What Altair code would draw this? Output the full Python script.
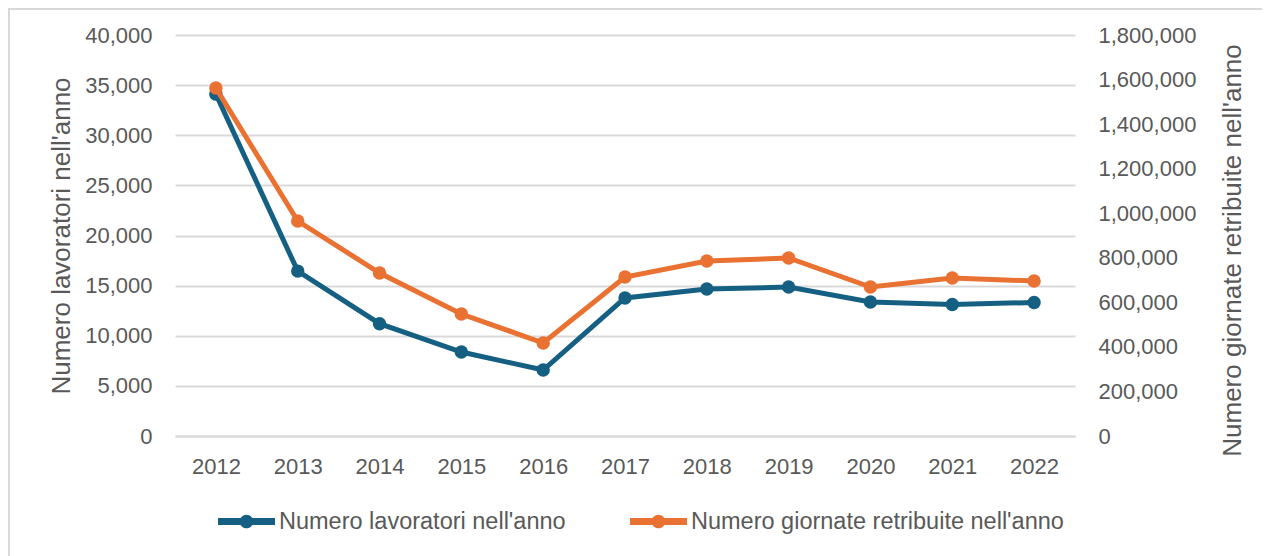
import altair as alt
import pandas as pd

years = ["2012", "2013", "2014", "2015", "2016", "2017", "2018", "2019", "2020", "2021", "2022"]
lavoratori = [34100, 16450, 11200, 8380, 6580, 13770, 14660, 14860, 13370, 13120, 13320]
giornate = [1562000, 965000, 731700, 547600, 417500, 713700, 785500, 799000, 668800, 709200, 695700]

s1 = "Numero lavoratori nell'anno"
s2 = "Numero giornate retribuite nell'anno"
c1 = "#156082"
c2 = "#E97132"

df1 = pd.DataFrame({"anno": years, "valore": lavoratori, "serie": s1})
df2 = pd.DataFrame({"anno": years, "valore": giornate, "serie": s2})

FONT = "Liberation Sans"
GRAY = "#595959"
GRID = "#d9d9d9"

xenc = alt.X("anno:O", title=None, sort=years,
             axis=alt.Axis(labelAngle=0, ticks=False, domain=True, domainColor=GRID,
                           domainWidth=2, labelPadding=20, labelFontSize=22,
                           labelColor=GRAY, labelFont=FONT))

color = alt.Color("serie:N", scale=alt.Scale(domain=[s1, s2], range=[c1, c2]),
                  legend=alt.Legend(title=None, orient="none", direction="horizontal",
                                    legendX=43, legendY=458, labelFontSize=23.5,
                                    labelColor=GRAY, labelFont=FONT, labelLimit=600,
                                    columnPadding=64, symbolSize=3249,
                                    symbolType="M-1,-0.12L1,-0.12L1,0.12L-1,0.12Z M-0.24,0 A0.24,0.24 0 1 1 0.24,0 A0.24,0.24 0 1 1 -0.24,0 Z",
                                    symbolStrokeWidth=0, symbolOpacity=1, labelOffset=4))

yleft = alt.Y("valore:Q", title=s1,
              scale=alt.Scale(domain=[0, 40000], nice=False),
              axis=alt.Axis(orient="left", values=list(range(0, 40001, 5000)), format=",.0f",
                            ticks=False, domain=False, grid=True, gridColor=GRID,
                            gridWidth=2, labelFontSize=22, labelColor=GRAY,
                            labelFont=FONT, labelPadding=23, titleFontSize=26,
                            titleFont=FONT, titleColor=GRAY, titleFontWeight="normal",
                            titlePadding=10, titleAngle=270))

yright = alt.Y("valore:Q", title=s2,
               scale=alt.Scale(domain=[0, 1800000], nice=False),
               axis=alt.Axis(orient="right", values=list(range(0, 1800001, 200000)), format=",.0f",
                             ticks=False, domain=False, grid=False, labelFontSize=22,
                             labelColor=GRAY, labelFont=FONT, labelPadding=23,
                             titleFontSize=26, titleFont=FONT, titleColor=GRAY,
                             titleFontWeight="normal", titlePadding=24, titleAngle=270,
                             titleBaseline="top", titleY=215, titleAlign="center"))

line1 = alt.Chart(df1).mark_line(strokeWidth=5, color=c1).encode(x=xenc, y=yleft)
pts1 = alt.Chart(df1).mark_circle(size=180, opacity=1).encode(x=xenc, y=yleft, color=color)
left = alt.layer(line1, pts1)

line2 = alt.Chart(df2).mark_line(strokeWidth=5, color=c2).encode(x=xenc, y=yright)
pts2 = alt.Chart(df2).mark_circle(size=180, opacity=1).encode(x=xenc, y=yright, color=color)
right = alt.layer(line2, pts2)

border = alt.Chart(pd.DataFrame({"a": [0]})).mark_rect(filled=False, stroke=GRID, strokeWidth=2).encode(
    x=alt.value(-166), x2=alt.value(1110), y=alt.value(-26), y2=alt.value(560))

chart = alt.layer(border, left, right).resolve_scale(y="independent").properties(
    width=900, height=401,
    autosize=alt.AutoSizeParams(type="none"),
    padding={"left": 167, "top": 27, "right": 187, "bottom": 120},
).configure_view(stroke=None)

chart.save("out.html", embed_options={"renderer": "svg", "actions": False})
